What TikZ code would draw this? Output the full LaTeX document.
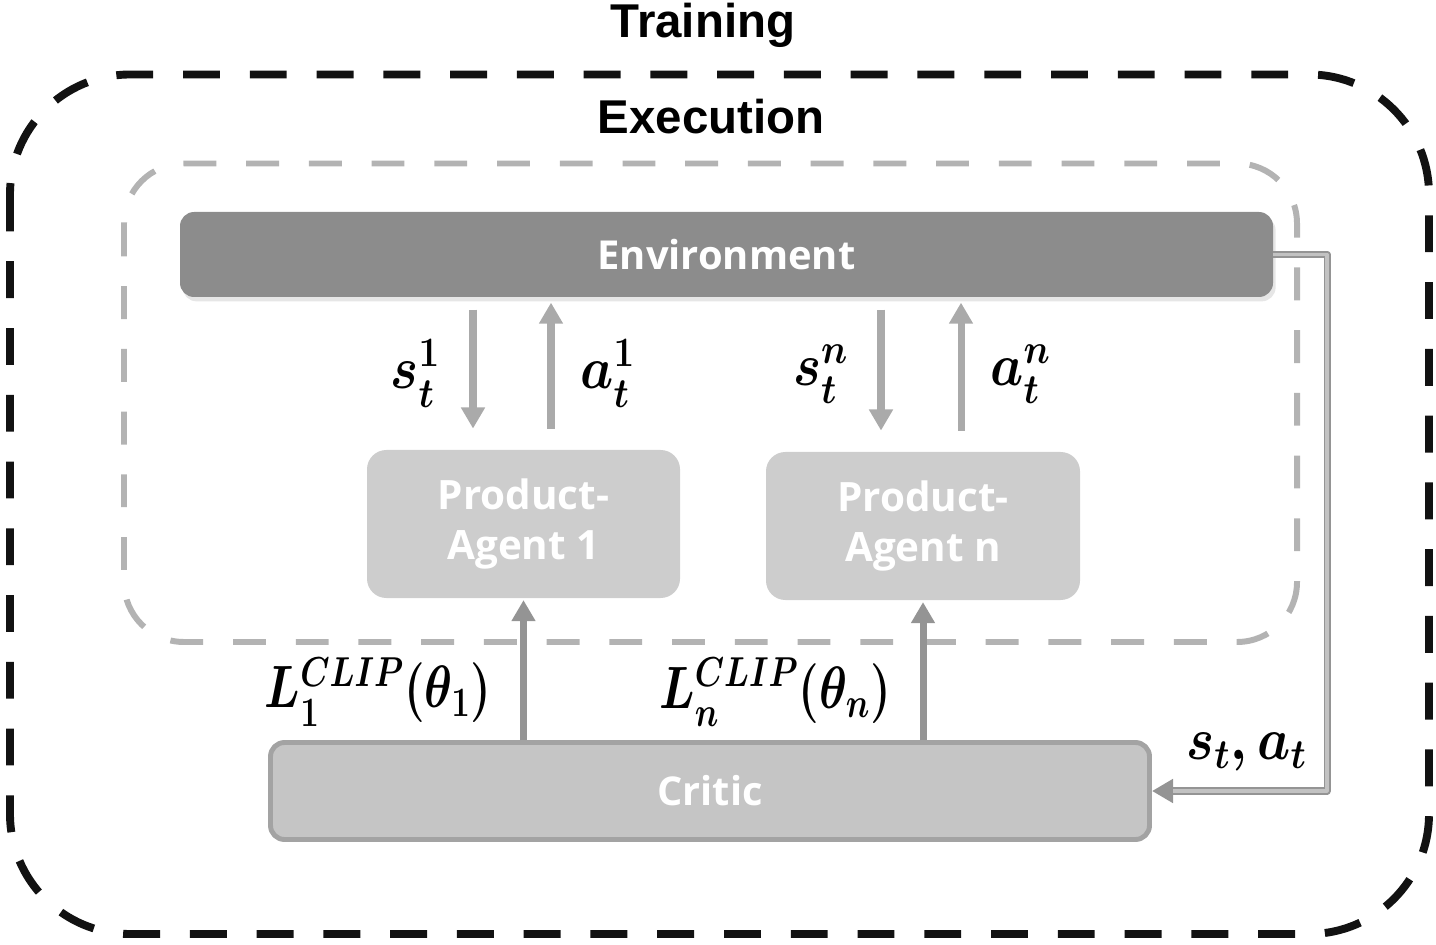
\RequirePackage{fix-cm}
\documentclass[tikz,border=0pt]{standalone}
\usepackage{fontspec}
\setmainfont{Liberation Sans}
\newfontfamily\boxfont{Open Sans}
\usetikzlibrary{arrows.meta,shadows,positioning}
\definecolor{envgray}{HTML}{8C8C8C}
\definecolor{agentgray}{HTML}{CDCDCD}
\definecolor{flowgray}{HTML}{AAAAAA}
\definecolor{linegray}{HTML}{B3B3B3}

\begin{document}
\begin{tikzpicture}[x=0.02cm, y=-0.02cm, line join=round, >={Triangle[width=13pt,length=12pt]},
    box/.style={rounded corners=8pt, text=white, align=center, inner sep=0pt, font=\boxfont\bfseries},
    flow/.style={draw=flowgray, line width=4pt},
    mlabel/.style={font=\fontsize{34}{38}\selectfont\boldmath, xscale=0.88},
    title/.style={font=\fontsize{27}{32}\selectfont\bfseries}]
    \useasboundingbox (0,0) rectangle (1436,945);
    \def\pxu{0.02cm}
    \draw[line width=4.5pt, black!93, dash pattern=on 21pt off 17pt, rounded corners=2.4cm] (10,74.5) rectangle (1429,934);
    \draw[line width=3.4pt, linegray, dash pattern=on 18.7pt off 17pt, rounded corners=1.2cm] (124,163.5) rectangle (1297,642);
    \node[title] (train) at (703,25) {Training};
    \node[title] (exec) at (711,117) {Execution};
    \node[box, fill=envgray, drop shadow={shadow xshift=1.5pt, shadow yshift=-2.5pt, opacity=0.2},
        minimum width=1093*\pxu, minimum height=85*\pxu, font=\boxfont\bfseries\fontsize{22.7}{27}\selectfont]
        (env) at (726.5,254.5) {Environment};
    \node[box, fill=agentgray, rounded corners=11pt, minimum width=313*\pxu, minimum height=148*\pxu,
        font=\boxfont\bfseries\fontsize{23}{28}\selectfont] (ag1) at (523.5,524) {Product-\\Agent 1};
    \node[box, fill=agentgray, rounded corners=11pt, minimum width=314*\pxu, minimum height=148*\pxu,
        font=\boxfont\bfseries\fontsize{23}{28}\selectfont] (agn) at (923,526) {Product-\\Agent n};
    \node[box, fill=agentgray!96!black, draw=black!36, line width=2.8pt, minimum width=879*\pxu, minimum height=97*\pxu,
        font=\boxfont\bfseries\fontsize{22.6}{26}\selectfont] (crit) at (710,791) {Critic};
    \foreach \ag/\xs/\xa/\k in {ag1/473/551/1, agn/881/961/n} {
        \coordinate (s\k) at (\xs,0);
        \coordinate (a\k) at (\xa,0);
        \draw[flow,->,shorten <=7pt,shorten >=12pt] (env.south -| s\k) -- node[mlabel, left=14pt] (ls\k) {$s_t^{\k}$} (\ag.north -| s\k);
        \draw[flow,->,shorten <=12pt,shorten >=3pt] (\ag.north -| a\k) -- node[mlabel, right=12pt] (la\k) {$a_t^{\k}$} (env.south -| a\k);
        \draw[flow,draw=black!42,->,shorten >=1pt] (crit.north -| \ag) -- node[mlabel, xscale=0.9, pos=0.34, left=14pt] (lc\k) {$L_{\k}^{CLIP}(\theta_{\k})$} (\ag.south);
    }
    \coordinate (fbc) at (1327,0);
    \draw[line width=4pt, draw=black!42, ->] (env.east) -- (env.east -| fbc) -- (crit.east -| fbc) -- node[mlabel, pos=0.46, above=6pt] (lsa) {$s_t,a_t$} (crit.east);
    \draw[line width=1.8pt, draw=linegray!80, shorten >=12pt] (env.east) -- (env.east -| fbc) -- (crit.east -| fbc) -- (crit.east);
\end{tikzpicture}
\end{document}
